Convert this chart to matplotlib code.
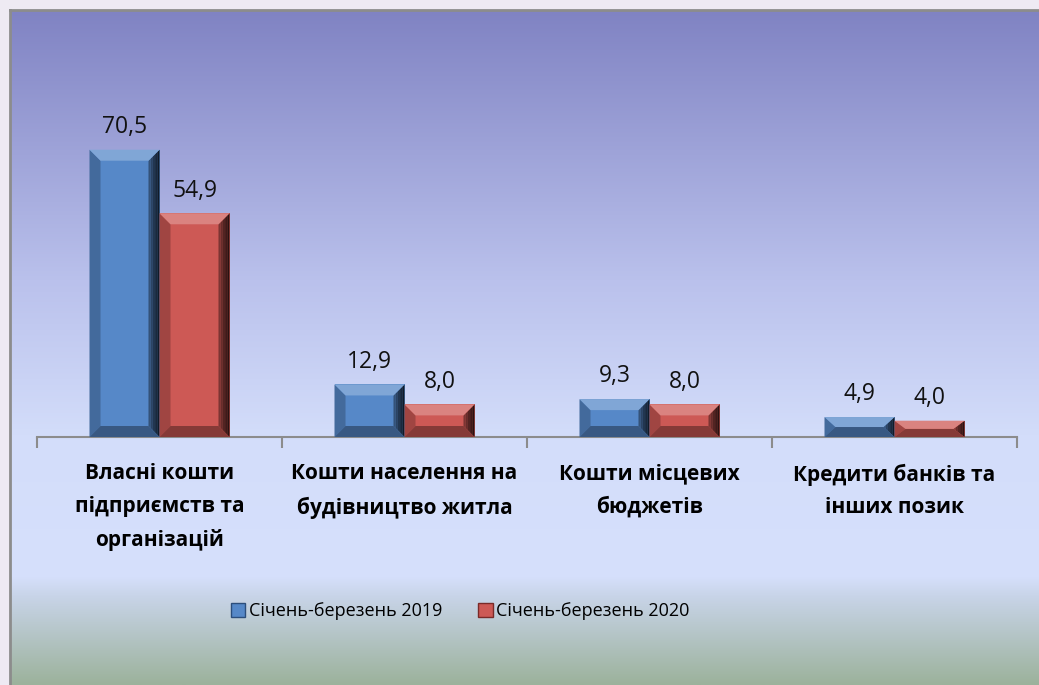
import numpy as np
import matplotlib

matplotlib.use("Agg")
import matplotlib.pyplot as plt
from matplotlib.colors import LinearSegmentedColormap, to_rgb
from matplotlib.patches import Patch, Polygon, Rectangle

categories = [
    "Власні кошти\nпідприємств та\nорганізацій",
    "Кошти населення на\nбудівництво житла",
    "Кошти місцевих\nбюджетів",
    "Кредити банків та\nінших позик",
]
series_names = ["Січень-березень 2019", "Січень-березень 2020"]
values_2019 = [70.5, 12.9, 9.3, 4.9]
values_2020 = [54.9, 8.0, 8.0, 4.0]

FONT = "Open Sans"
BLUE = "#5688c8"
RED = "#cd5955"
W, H = 1039, 685


def _mix(c, other, t):
    a = np.array(to_rgb(c))
    b = np.array(to_rgb(other))
    return tuple(a * (1 - t) + b * t)


def _bevel_bar(ax, x0, x1, y1, color, bx, by):
    """Face + four bevel trapezoids so the bar looks like the Office 'bevel' style."""
    y0 = 0.0
    by = min(by, (y1 - y0) / 2)
    ax.add_patch(Rectangle((x0, y0), x1 - x0, y1 - y0, facecolor=color, edgecolor="none", zorder=3))
    top = [(x0, y1), (x1, y1), (x1 - bx, y1 - by), (x0 + bx, y1 - by)]
    bottom = [(x0, y0), (x1, y0), (x1 - bx, y0 + by), (x0 + bx, y0 + by)]
    left = [(x0, y0), (x0 + bx, y0 + by), (x0 + bx, y1 - by), (x0, y1)]
    ax.add_patch(Polygon(left, closed=True, facecolor=_mix(color, "black", 0.22), edgecolor="none", zorder=4))
    # right side: a few strips fading to near black
    n = 5
    for i in range(n):
        t0, t1 = i / n, (i + 1) / n
        xa, xb = x1 - bx * (1 - t0), x1 - bx * (1 - t1)
        ya0, yb0 = y0 + by * (1 - t0), y0 + by * (1 - t1)
        ya1, yb1 = y1 - by * (1 - t0), y1 - by * (1 - t1)
        strip = [(xa, ya0), (xb, yb0), (xb, yb1), (xa, ya1)]
        ax.add_patch(Polygon(strip, closed=True, facecolor=_mix(color, "black", 0.3 + 0.5 * t1),
                             edgecolor="none", zorder=4))
    ax.add_patch(Polygon(bottom, closed=True, facecolor=_mix(color, "black", 0.35), edgecolor="none", zorder=5))
    ax.add_patch(Polygon(top, closed=True, facecolor=_mix(color, "white", 0.25), edgecolor="none", zorder=5))


fig = plt.figure(figsize=(W / 100, H / 100), dpi=100)
fig.patch.set_facecolor("#eeeaf3")

# panel with vertical gradient (top -> bottom)
bg = fig.add_axes([10 / W, 0, 1 - 10 / W, 1 - 10 / H], zorder=0)
stops = [
    (0.00, (128, 131, 195)),
    (0.40, (186, 193, 236)),
    (0.63, (211, 221, 250)),
    (0.84, (214, 224, 252)),
    (0.87, (200, 212, 232)),
    (1.00, (156, 178, 156)),
]
cmap = LinearSegmentedColormap.from_list("panel", [(p, tuple(v / 255 for v in c)) for p, c in stops])
bg.imshow(np.linspace(0, 1, 256).reshape(-1, 1), cmap=cmap, aspect="auto", extent=[0, 1, 0, 1],
          origin="upper")
bg.set_xlim(0, 1)
bg.set_ylim(0, 1)
bg.axis("off")
fig.add_artist(plt.Line2D([10 / W, 10 / W], [0, 1 - 10 / H], color="#8c8c8c", lw=2))
fig.add_artist(plt.Line2D([10 / W, 1], [1 - 10 / H, 1 - 10 / H], color="#8c8c8c", lw=2))

# plot area
ax = fig.add_axes([37 / W, (H - 437) / H, 980 / W, 326 / H], zorder=2)
ax.patch.set_alpha(0)
ax.set_xlim(-0.5, len(categories) - 0.5)
ax.set_ylim(0, 80)

bar_w = 70 / 245
px_x = 245.0
px_y = 326 / 80
bevel = 11
x = np.arange(len(categories))
for vals, color, shift in [(values_2019, BLUE, -bar_w / 2), (values_2020, RED, bar_w / 2)]:
    for xi, v in zip(x, vals):
        cx = xi + shift
        _bevel_bar(ax, cx - bar_w / 2, cx + bar_w / 2, v, color, bevel / px_x, bevel / px_y)
        ax.annotate(f"{v:.1f}".replace(".", ","), (cx, v), xytext=(0, 12), textcoords="offset points",
                    ha="center", va="baseline", fontsize=16.5, family=FONT, color="#111111")

for side in ["top", "left", "right"]:
    ax.spines[side].set_visible(False)
ax.spines["bottom"].set_color("#8c8c8c")
ax.spines["bottom"].set_linewidth(1.5)
ax.set_yticks([])
ax.set_xticks(x)
ax.set_xticklabels(categories, fontsize=15, fontweight="bold", family=FONT, linespacing=1.72,
                   multialignment="center")
ax.set_xticks(np.arange(-0.5, len(categories)), minor=True)
ax.tick_params(axis="x", which="major", length=0, pad=19)
ax.tick_params(axis="x", which="minor", length=8, width=1.5, color="#8c8c8c")

handles = [Patch(facecolor=BLUE, edgecolor="#2c4e7c"), Patch(facecolor=RED, edgecolor="#7a2a28")]
fig.legend(handles, series_names, loc="center", bbox_to_anchor=(460 / W, 1 - 611 / H), ncol=2,
           frameon=False, handlelength=0.8, handleheight=0.8, handletextpad=0.2, columnspacing=2.0,
           prop={"family": FONT, "size": 13})

fig.savefig("out.png", dpi=100)
